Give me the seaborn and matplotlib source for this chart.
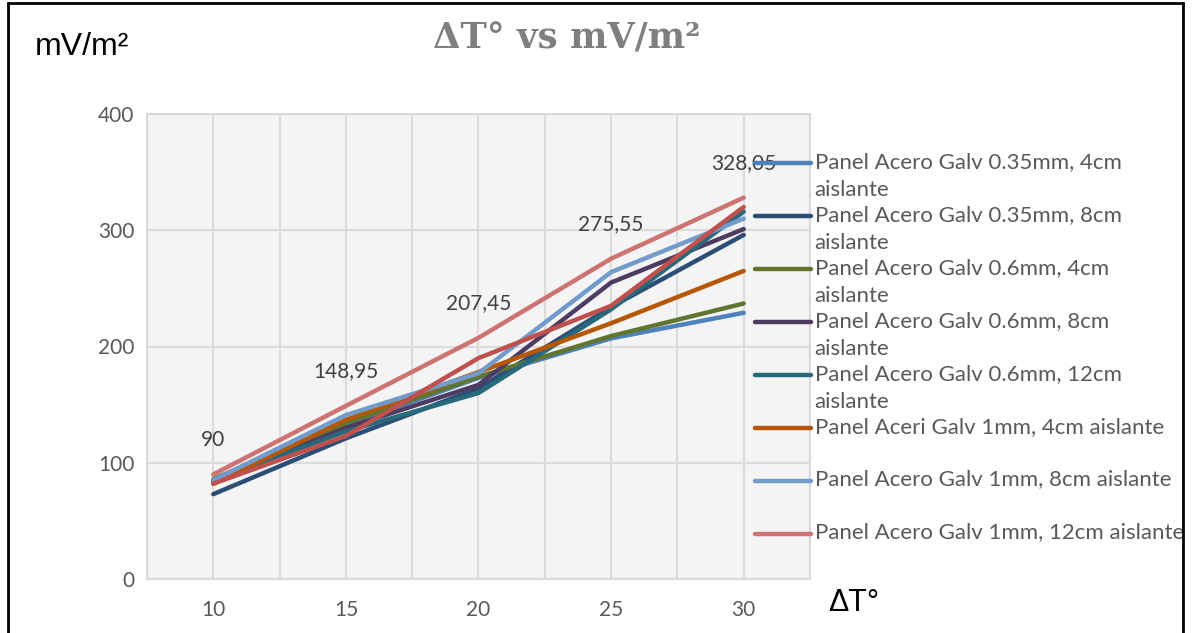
import matplotlib
matplotlib.use("Agg")
import matplotlib.pyplot as plt
import matplotlib.patches as mpatches
from matplotlib.ticker import MultipleLocator
import seaborn as sns
import pandas as pd

# ---- data ----
delta_t = [10, 15, 20, 25, 30]
series_names = [
    "Panel Acero Galv 0.35mm, 4cm\naislante",
    "Panel Acero Galv 0.35mm, 8cm\naislante",
    "Panel Acero Galv 0.6mm, 4cm\naislante",
    "Panel Acero Galv 0.6mm, 8cm\naislante",
    "Panel Acero Galv 0.6mm, 12cm\naislante",
    "Panel Aceri Galv 1mm, 4cm aislante\n ",
    "Panel Acero Galv 1mm, 8cm aislante\n ",
    "Panel Acero Galv 1mm, 12cm aislante\n ",
    "Serie 9",
]
s1 = [84, 132, 173, 207, 229]
s2 = [73, 121, 164, 234, 296]
s3 = [86, 134, 174, 209, 237]
s4 = [84, 130, 167, 255, 301]
s5 = [85, 127, 160, 232, 316]
s6 = [82, 137, 178, 220, 265]
s7 = [85, 141, 177, 264, 310]
s8 = [90, 148.95, 207.45, 275.55, 328.05]
s9 = [82, 123, 190, 235, 320]
all_series = [s1, s2, s3, s4, s5, s6, s7, s8, s9]
label_values = s8
label_texts = ["90", "148,95", "207,45", "275,55", "328,05"]
colors = ["#4F81BD", "#2C4D75", "#5F7530", "#4D3B62", "#276A7C",
          "#B65708", "#729ACA", "#CD7371", "#C0504D"]

rows = []
for name, vals in zip(series_names, all_series):
    for x, v in zip(delta_t, vals):
        rows.append({"dt": x, "val": v, "serie": name})
df = pd.DataFrame(rows)

sns.set_style("white")
plt.rcParams["font.family"] = ["Lato", "DejaVu Sans"]

W, H = 1192, 633
fig = plt.figure(figsize=(W / 100, H / 100), dpi=100)
ax = fig.add_axes([147 / W, 1 - 579 / H, (810 - 147) / W, (579 - 114) / H])
ax.set_facecolor("#f4f4f4")

sns.lineplot(data=df, x="dt", y="val", hue="serie", hue_order=series_names,
             palette=dict(zip(series_names, colors)), linewidth=3.2,
             legend=False, ax=ax, sort=False)
for ln in ax.get_lines():
    ln.set_solid_capstyle("round")

ax.set_xlim(7.5, 32.5)
ax.set_ylim(0, 400)
ax.set_xticks(delta_t)
ax.xaxis.set_minor_locator(MultipleLocator(2.5))
ax.set_yticks([0, 100, 200, 300, 400])
ax.grid(True, which="both", axis="x", color="#dcdcdc", linewidth=1.5)
ax.grid(True, which="major", axis="y", color="#dcdcdc", linewidth=1.5)
ax.set_axisbelow(True)
for sp in ax.spines.values():
    sp.set_color("#d9d9d9")
    sp.set_linewidth(1.5)
ax.tick_params(axis="both", which="both", length=0, labelsize=15,
               labelcolor="#595959")
ax.tick_params(axis="x", pad=15)
ax.tick_params(axis="y", pad=9)
ax.set_xlabel("")
ax.set_ylabel("")

for x, v, t in zip(delta_t, label_values, label_texts):
    ax.annotate(t, (x, v), xytext=(0, 25), textcoords="offset points",
                ha="center", va="center", fontsize=15, color="#404040")

handles = ax.get_lines()[:8]
leg = ax.legend(handles, series_names[:8], loc="upper left",
                bbox_to_anchor=(755 / W, 1 - 152 / H),
                bbox_transform=fig.transFigure, frameon=False,
                fontsize=16, labelcolor="#595959", handlelength=2.5,
                handletextpad=0.18, labelspacing=0.2, borderpad=0,
                borderaxespad=0)
for t in leg.get_texts():
    t.set_linespacing(1.53)
for h in leg.legend_handles:
    h.set_linewidth(3.2)
    h.set_ydata([y + 9.4 for y in h.get_ydata()])

fig.text(433 / W, 1 - 38 / H, "ΔT° vs mV/m²", fontsize=25.5, fontweight="bold",
         family="DejaVu Serif", color="#7f7f7f", va="center", ha="left")
fig.text(35 / W, 1 - 47 / H, "mV/m²", fontsize=23, color="black",
         family="Liberation Sans", va="center", ha="left")
fig.text(828 / W, 1 - 603 / H, "ΔT°", fontsize=22, color="black",
         family="Liberation Sans", va="center", ha="left")

fig.patches.append(mpatches.Rectangle((8 / W, -0.05), (1183 - 8) / W, 1.05 - 3 / H,
                                      transform=fig.transFigure, fill=False,
                                      edgecolor="black", linewidth=2))

fig.savefig("out.png", dpi=100)
